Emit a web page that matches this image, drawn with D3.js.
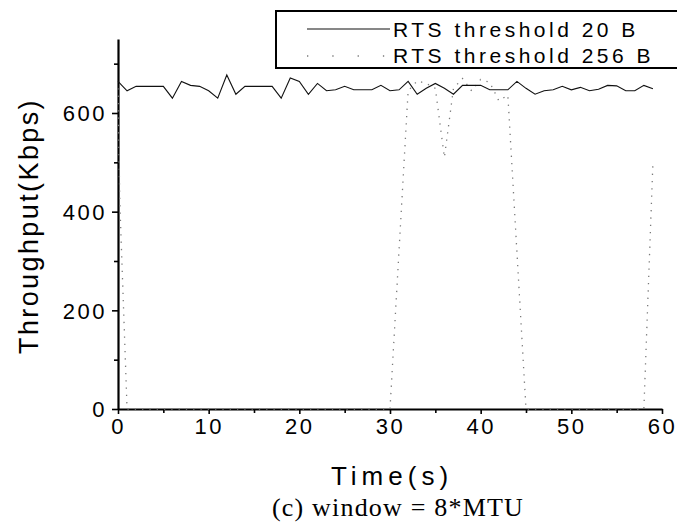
<!DOCTYPE html>
<html>
<head>
<meta charset="utf-8">
<script src="https://cdn.jsdelivr.net/npm/d3@7/dist/d3.min.js"></script>
<style>
  html, body { margin: 0; padding: 0; background: #fff; }
  svg { display: block; }
  .sans { font-family: "Liberation Sans", Arial, sans-serif; fill: #000; }
  .serif { font-family: "Liberation Serif", "Times New Roman", serif; fill: #000; }
</style>
</head>
<body>
<svg id="chart" width="677" height="524"></svg>
<script>
// Throughput over time, RTS threshold 20 B (solid) vs 256 B (dotted)
const time20 = [0,1,2,3,4,5,6,7,8,9,10,11,12,13,14,15,16,17,18,19,20,21,22,23,24,25,26,27,28,29,
                30,31,32,33,34,35,36,37,38,39,40,41,42,43,44,45,46,47,48,49,50,51,52,53,54,55,56,57,58,59];
const thr20 = [664,645,654,654,654,654,630,664,656,654,645,630,677,638,654,654,654,654,630,671,
               664,638,660,645,647,654,647,647,647,656,645,647,664,638,650,660,650,638,656,656,
               656,647,647,647,664,650,638,645,647,654,647,652,645,648,656,655,645,645,656,649];

const time256 = [0,0.2,1,30,32,33,34,35,36,37,38,39,40,41,42,43,45,58,59];
const thr256  = [650,420,0,0,645,665,660,650,510,650,670,645,668,662,625,636,0,0,500];

const xTicksMajor = [0,10,20,30,40,50,60];
const xTicksMinor = [5,15,25,35,45,55];
const yTicksMajor = [0,200,400,600];
const yTicksMinor = [100,300,500,700];

const legendLabels = ["RTS threshold 20 B", "RTS threshold 256 B"];
const xTitle = "Time(s)";
const yTitle = "Throughput(Kbps)";
const caption = "(c) window = 8*MTU";

const svg = d3.select("#chart");

const x = d3.scaleLinear().domain([0, 60]).range([118, 662]);
const y = d3.scaleLinear().domain([0, 750]).range([409, 39]);

// axes
const gx = svg.append("g").attr("transform", `translate(0,${y(0)})`);
gx.call(d3.axisBottom(x).tickValues(xTicksMajor).tickSize(5).tickSizeOuter(0).tickPadding(3).tickFormat(d3.format("d")));
gx.append("g").call(d3.axisBottom(x).tickValues(xTicksMinor).tickSize(4).tickSizeOuter(0).tickFormat(""))
  .select(".domain").remove();

const gy = svg.append("g").attr("transform", `translate(${x(0)},0)`);
gy.call(d3.axisLeft(y).tickValues(yTicksMajor).tickSize(6).tickSizeOuter(0).tickPadding(5).tickFormat(d3.format("d")));
gy.append("g").call(d3.axisLeft(y).tickValues(yTicksMinor).tickSize(4).tickSizeOuter(0).tickFormat(""))
  .select(".domain").remove();

svg.selectAll(".domain").attr("stroke", "#000").attr("stroke-width", 2.2);
svg.selectAll(".tick line").attr("stroke", "#000").attr("stroke-width", 1.6);
svg.selectAll(".tick text")
  .attr("class", "sans")
  .style("font-size", "22px")
  .style("letter-spacing", "2.5px")
  .attr("fill", "#000");
gx.selectAll(".tick text").attr("dy", "0.78em").attr("dx", "0px");
gy.selectAll(".tick text").attr("dy", "0.36em");

// series
const line = d3.line().x(d => x(d[0])).y(d => y(d[1]));

svg.append("path")
  .datum(d3.zip(time256, thr256))
  .attr("d", line)
  .attr("fill", "none")
  .attr("stroke", "#7a7a7a")
  .attr("stroke-width", 1.3)
  .attr("stroke-dasharray", "1.3,6");

svg.append("path")
  .datum(d3.zip(time20, thr20))
  .attr("d", line)
  .attr("fill", "none")
  .attr("stroke", "#111")
  .attr("stroke-width", 1.1);

// legend
const lg = svg.append("g");
lg.append("rect")
  .attr("x", 276).attr("y", 11).attr("width", 420).attr("height", 57)
  .attr("fill", "#fff").attr("stroke", "#000").attr("stroke-width", 2);
lg.append("line").attr("x1", 307).attr("x2", 390).attr("y1", 29).attr("y2", 29)
  .attr("stroke", "#111").attr("stroke-width", 1.1);
lg.append("line").attr("x1", 307).attr("x2", 390).attr("y1", 56).attr("y2", 56)
  .attr("stroke", "#7a7a7a").attr("stroke-width", 1.3).attr("stroke-dasharray", "1.3,24");
lg.selectAll("text.leg").data(legendLabels).join("text")
  .attr("class", "sans leg")
  .attr("x", 393)
  .attr("y", (d, i) => 36.5 + i * 26.5)
  .style("font-size", "21px")
  .style("letter-spacing", "3.5px")
  .text(d => d);

// titles
svg.append("text")
  .attr("class", "sans")
  .attr("x", 392).attr("y", 485)
  .attr("text-anchor", "middle")
  .style("font-size", "26px")
  .style("letter-spacing", "5px")
  .text(xTitle);

svg.append("text")
  .attr("class", "sans")
  .attr("transform", "translate(38,226) rotate(-90)")
  .attr("text-anchor", "middle")
  .style("font-size", "27px")
  .style("letter-spacing", "2.4px")
  .text(yTitle);

svg.append("text")
  .attr("class", "serif")
  .attr("x", 398).attr("y", 516)
  .attr("text-anchor", "middle")
  .style("font-size", "26px")
  .style("letter-spacing", "1.2px")
  .text(caption);
</script>
</body>
</html>
